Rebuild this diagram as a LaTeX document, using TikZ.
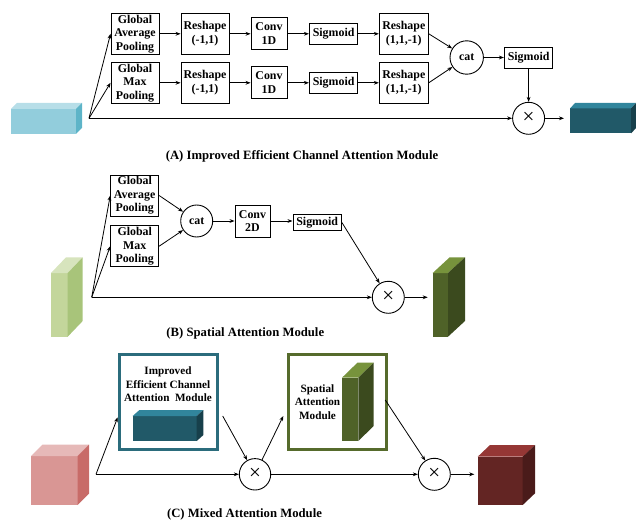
\documentclass[tikz,border=0pt]{standalone}
\usepackage{fontspec}
\setmainfont{Liberation Serif}
\usetikzlibrary{arrows.meta,calc}

% label fonts
\newcommand{\lbl}{\fontsize{11.9}{13.5}\selectfont\bfseries}
\newcommand{\modlbl}{\fontsize{11.2}{13.6}\selectfont\bfseries}
\newcommand{\capfont}{\fontsize{12.7}{15}\selectfont\bfseries}
\newcommand{\timesfont}{\fontsize{21}{21}\selectfont}

% colours
\definecolor{tealF}{HTML}{215968}
\definecolor{tealT}{HTML}{31859C}
\definecolor{tealS}{HTML}{17404B}
\definecolor{skyF}{HTML}{92CDDC}
\definecolor{skyT}{HTML}{B7DEE8}
\definecolor{skyS}{HTML}{5DB4C8}
\definecolor{limeF}{HTML}{C3D69B}
\definecolor{limeT}{HTML}{D7E4BD}
\definecolor{limeS}{HTML}{A8C47A}
\definecolor{oliveF}{HTML}{4F6228}
\definecolor{oliveT}{HTML}{77933C}
\definecolor{oliveS}{HTML}{3B4A1E}
\definecolor{roseF}{HTML}{D99694}
\definecolor{roseT}{HTML}{E6B9B8}
\definecolor{roseS}{HTML}{C86B68}
\definecolor{wineF}{HTML}{632523}
\definecolor{wineT}{HTML}{953735}
\definecolor{wineS}{HTML}{4A1B1A}
\definecolor{ecaLine}{HTML}{2B6C7C}
\definecolor{samLine}{HTML}{566B2C}

% feature-map block: front top-left (#1,#2), front bottom-right (#3,#4),
% depth offset #5 right and #6 up, colours front/top/side #7/#8/#9
\newcommand{\cuboid}[9]{%
  \fill[#7] (#1,#2) rectangle (#3,#4);
  \fill[#8] (#1,#2) -- (#1+#5,#2-#6) -- (#3+#5,#2-#6) -- (#3,#2) -- cycle;
  \fill[#9] (#3,#2) -- (#3+#5,#2-#6) -- (#3+#5,#4-#6) -- (#3,#4) -- cycle;
}

\tikzset{
  blk/.style={draw, line width=0.9pt, fill=white, font=\lbl, align=center, inner sep=0pt},
  pool/.style={blk, minimum width=48pt, minimum height=41pt},
  conv/.style={blk, minimum width=36pt, minimum height=32pt},
  sig/.style={blk, minimum width=48.5pt, minimum height=21pt},
  op/.style={draw, circle, line width=0.9pt, fill=white, minimum size=32pt, inner sep=0pt, font=\lbl},
  mul/.style={op, font=\timesfont},
  arr/.style={-{Stealth[length=5pt,width=3.8pt]}, line width=0.8pt},
  caption/.style={font=\capfont, inner sep=0pt},
  frame/.style={draw, line width=3pt, fill=white, minimum width=98pt, minimum height=95.3pt, inner sep=0pt}
}

\begin{document}
\begin{tikzpicture}[x=1pt, y=-1pt]
\useasboundingbox (0,0) rectangle (636,521);

% ---------------- (A) channel attention ----------------
\cuboid{11}{109}{76}{134}{6}{6}{skyF}{skyT}{skyS}
\cuboid{570}{108.5}{631}{133.5}{5}{5.5}{tealF}{tealT}{tealS}

\coordinate (spA) at (89,118.3);
\coordinate (outA) at (564,118.3);

\node[pool] (gapA) at (135,33.8) {Global\\Average\\Pooling};
\node[pool] (gmpA) at (135,82.8) {Global\\Max\\Pooling};
\node[pool] (rsA1) at (205,33.8) {Reshape\\(-1,1)};
\node[pool] (rsA2) at (205,82.8) {Reshape\\(-1,1)};
\node[conv] (cvA1) at (269,33.8) {Conv\\1D};
\node[conv] (cvA2) at (269,82.8) {Conv\\1D};
\node[sig]  (sgA1) at (333.6,33.8) {Sigmoid};
\node[sig]  (sgA2) at (333.6,82.8) {Sigmoid};
\node[pool, minimum width=49pt] (rsA3) at (403.8,33.8) {Reshape\\(1,1,-1)};
\node[pool, minimum width=49pt] (rsA4) at (403.8,82.8) {Reshape\\(1,1,-1)};
\node[op, minimum size=33.4pt] (catA) at (466.7,57.5) {cat};
\node[sig]  (sgA3) at (528.6,57.5) {Sigmoid};
\node[mul]  (mulA) at (528.6,118.3) {×};

\draw[arr] (spA) -- (gapA.west);
\draw[arr] (spA) -- (gmpA.west);
\draw[arr] (spA) -- (mulA.west);
\draw[arr] (gapA) -- (rsA1);
\draw[arr] (rsA1) -- (cvA1);
\draw[arr] (cvA1) -- (sgA1);
\draw[arr] (sgA1) -- (rsA3);
\draw[arr] (gmpA) -- (rsA2);
\draw[arr] (rsA2) -- (cvA2);
\draw[arr] (cvA2) -- (sgA2);
\draw[arr] (sgA2) -- (rsA4);
\draw[arr] (rsA3.east) -- (catA);
\draw[arr] (rsA4.east) -- (catA);
\draw[arr] (catA) -- (sgA3);
\draw[arr] (sgA3) -- (mulA);
\draw[arr] (mulA) -- (outA);

\node[caption] (capA) at (302,156) {(A) Improved Efficient Channel Attention Module};

% ---------------- (B) spatial attention ----------------
\cuboid{51}{273}{67.7}{336.7}{15}{15.7}{limeF}{limeT}{limeS}
\cuboid{432.7}{273}{448}{336.7}{17}{15.7}{oliveF}{oliveT}{oliveS}

\coordinate (spB) at (91.7,297.3);
\coordinate (outB) at (427.7,297.3);

\node[pool] (gapB) at (134.7,195.5) {Global\\Average\\Pooling};
\node[pool] (gmpB) at (134.7,246.2) {Global\\Max\\Pooling};
\node[op]   (catB) at (196.7,221) {cat};
\node[conv, minimum width=35pt] (cvB) at (252.5,221) {Conv\\2D};
\node[sig, minimum height=16.7pt] (sgB) at (317.2,222.5) {Sigmoid};
\node[mul]  (mulB) at (388.3,297.3) {×};

\draw[arr] (spB) -- (gapB.west);
\draw[arr] (spB) -- (gmpB.west);
\draw[arr] (spB) -- (mulB.west);
\draw[arr] (gapB.east) -- (catB);
\draw[arr] (gmpB.east) -- (catB);
\draw[arr] (catB) -- (cvB);
\draw[arr] (cvB) -- (sgB.west |- cvB);
\draw[arr] (sgB.east) -- (mulB);
\draw[arr] (mulB) -- (outB);

\node[caption] (capB) at (245.3,333.3) {(B) Spatial Attention Module};

% ---------------- (C) mixed attention ----------------
\cuboid{31}{456}{77.7}{505}{11.5}{11.5}{roseF}{roseT}{roseS}
\cuboid{477.7}{456.7}{522.7}{505}{12.3}{11.7}{wineF}{wineT}{wineS}

\node[frame, draw=ecaLine] (ecaF) at (168.2,401.85) {};
\node[font=\modlbl, align=center, inner sep=0pt] (ecaT) at (168,384.2)
  {Improved\\Efficient Channel\\Attention\ \ Module};
\cuboid{132.7}{416}{196.7}{441}{6.7}{6}{tealF}{tealT}{tealS}

\node[frame, draw=samLine] (samF) at (337.5,401.85) {};
\node[font=\modlbl, align=center, inner sep=0pt] (samT) at (317.5,402)
  {Spatial\\Attention\\Module};
\cuboid{342}{377.7}{358.3}{441}{15.4}{15}{oliveF}{oliveT}{oliveS}

\coordinate (spC) at (96,474.3);
\coordinate (ecaIn) at (117.7,417.3);
\coordinate (ecaOut) at (222.7,416);
\coordinate (samIn) at (283.3,416);
\coordinate (samOut) at (385.3,400);
\coordinate (outC) at (474.3,474.3);

\node[mul, minimum size=31.4pt] (mulC1) at (255,474.3) {×};
\node[mul] (mulC2) at (434.3,474.3) {×};

\draw[arr] (spC) -- (ecaIn);
\draw[arr] (spC) -- (mulC1.west);
\draw[arr] (ecaOut) -- (mulC1);
\draw[arr] (mulC1) -- (samIn);
\draw[arr] (samOut) -- (mulC2);
\draw[arr] (mulC1) -- (mulC2);
\draw[arr] (mulC2) -- (outC);

\node[caption] (capC) at (244.5,514.3) {(C) Mixed Attention Module};

\end{tikzpicture}
\end{document}
